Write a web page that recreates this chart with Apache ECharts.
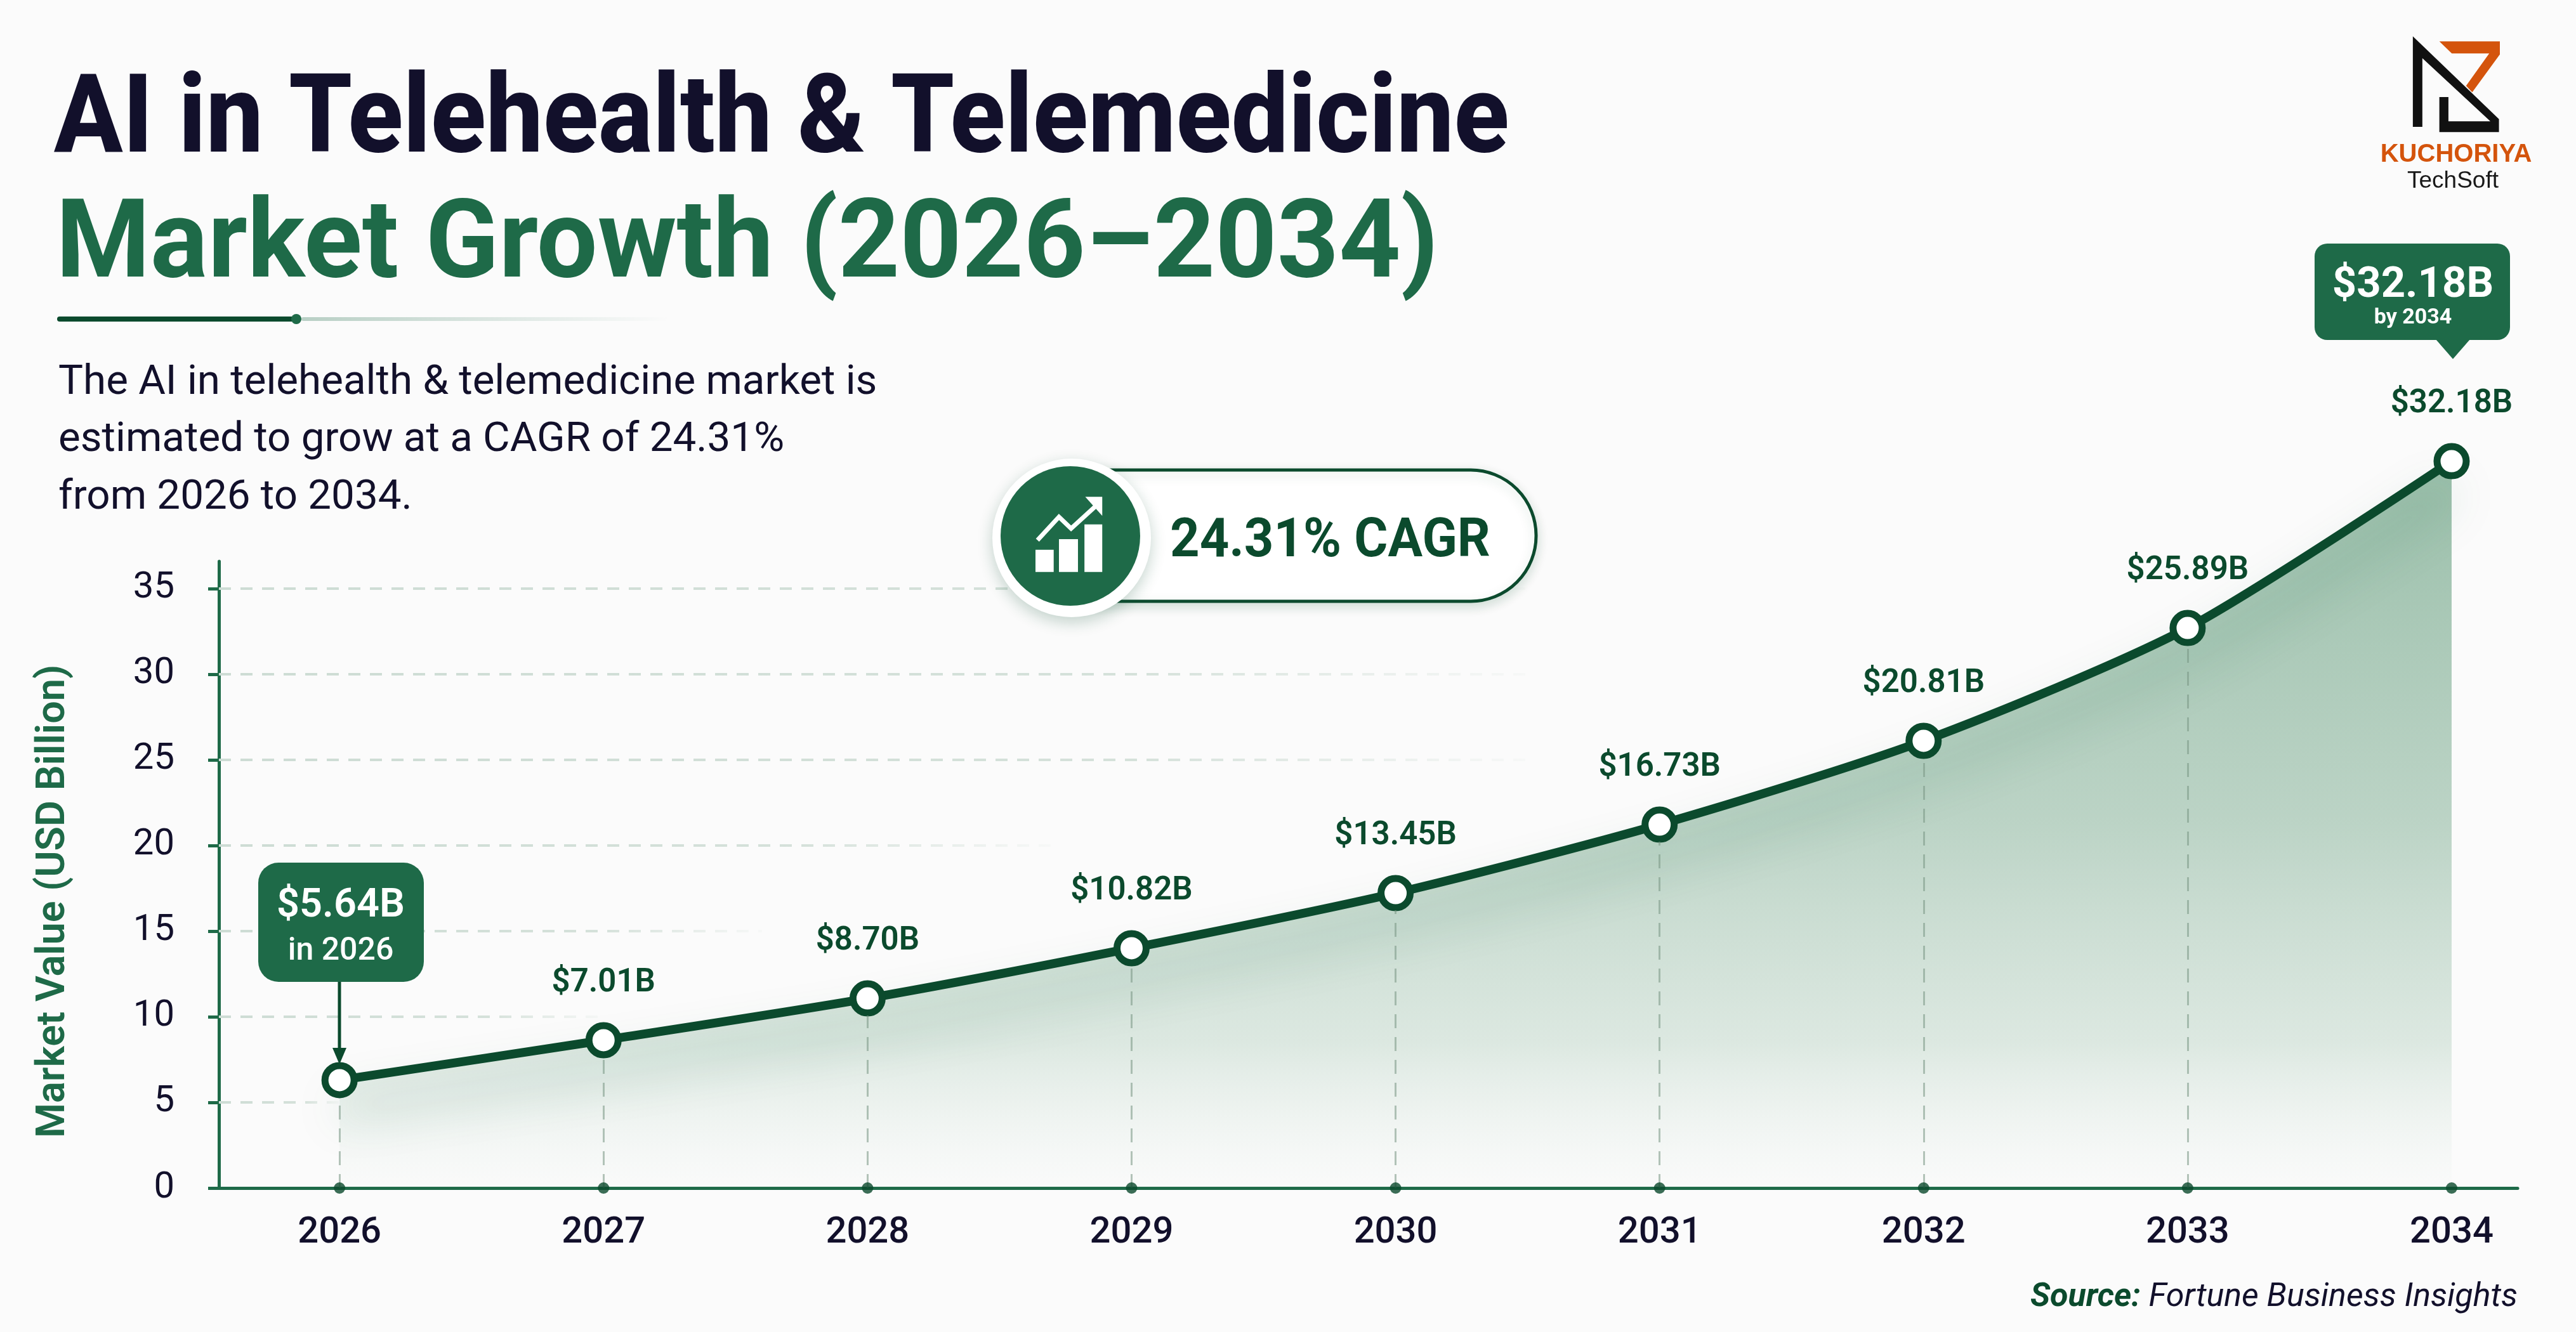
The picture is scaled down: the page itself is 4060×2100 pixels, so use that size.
<!DOCTYPE html>
<html>
<head>
<meta charset="utf-8">
<title>AI in Telehealth & Telemedicine Market Growth</title>
<style>html,body{margin:0;padding:0;background:#fbfbfb}#c{width:4060px;height:2100px}</style>
<script src="https://cdn.jsdelivr.net/npm/echarts@6/dist/echarts.min.js"></script>
</head>
<body>
<div id="c"></div>
<script>
// ---- data ----
const years = [2026, 2027, 2028, 2029, 2030, 2031, 2032, 2033, 2034];
// curve height of each point as it sits against the picture's own value axis
const curveHeights = [6.30, 8.63, 11.07, 14.00, 17.22, 21.22, 26.11, 32.70, 42.44];
// printed market value of each point
const valueLabels = ['$5.64B', '$7.01B', '$8.70B', '$10.82B', '$13.45B', '$16.73B', '$20.81B', '$25.89B', '$32.18B'];
const yTicks = [0, 5, 10, 15, 20, 25, 30, 35];
// year at which each dashed horizontal gridline stops (5 … 35)
const gridlineLevels = [5, 10, 15, 20, 25, 30, 35];
const gridlineStops = [2026, 2027, 2027.6, 2028.7, 2030.5, 2030.5, 2030.5];

const DARK = '#0b4a2d', GREEN = '#1e6a48', INK = '#12102b', FONT = 'Roboto';
const chart = echarts.init(document.getElementById('c'), null, {renderer: 'canvas'});

const Lg = (x, y, x2, y2, stops, g) => new echarts.graphic.LinearGradient(x, y, x2, y2, stops, g);
const lx = z => 3500 + z / 2.8, ly = z => z / 1.96;
const logoPts = a => a.map(p => [lx(p[0]), ly(p[1])]);
const ix = z => 1500 + z / 1.568, iy = z => 700 + z / 3;
const iconPts = a => a.map(p => [ix(p[0]), iy(p[1])]);
// y is the text baseline; middle alignment sits about 0.24 em above it for these faces
const txt = (x, y, text, size, weight, fill, align, extra, sx) => ({
  type: 'text', x, y: y - 0.24 * size, z: 20, scaleX: sx || 1,
  style: Object.assign({text, fontFamily: FONT, fontSize: size, fontWeight: weight, fill, align: align || 'left', verticalAlign: 'middle'}, extra || {})
});
const poly = (points, fill, z) => ({type: 'polygon', z: z || 20, shape: {points}, style: {fill}});
const rect = (x, y, width, height, r, style, z) => ({type: 'rect', z: z || 20, shape: {x, y, width, height, r}, style});

const graphics = [
  // heading
  txt(85, 237, 'AI in Telehealth & Telemedicine', 173, 800, INK, 'left', null, 0.928),
  txt(88, 434, 'Market Growth (2026–2034)', 173, 700, GREEN, 'left', null, 0.982),
  rect(90, 499, 378, 8, 4, {fill: DARK}),
  {type: 'circle', z: 20, shape: {cx: 467, cy: 503, r: 8}, style: {fill: GREEN}},
  rect(475, 500, 580, 6, 3, {fill: Lg(0, 0, 1, 0, [{offset: 0, color: 'rgba(30,106,72,0.3)'}, {offset: 1, color: 'rgba(30,106,72,0)'}])}),
  txt(92, 620, 'The AI in telehealth & telemedicine market is', 65.5, 400, INK),
  txt(92, 710, 'estimated to grow at a CAGR of 24.31%', 65.5, 400, INK),
  txt(92, 801, 'from 2026 to 2034.', 65.5, 400, INK),

  // CAGR pill
  rect(1640, 741, 781, 207, 103, {fill: '#fff', stroke: DARK, lineWidth: 5, shadowBlur: 18, shadowColor: 'rgba(15,81,50,0.18)', shadowOffsetY: 6}),
  {type: 'circle', z: 20, shape: {cx: 1689, cy: 848, r: 125}, style: {fill: '#fff', shadowBlur: 24, shadowColor: 'rgba(15,81,50,0.25)', shadowOffsetY: 8}},
  {type: 'circle', z: 20, shape: {cx: 1687, cy: 845, r: 110}, style: {fill: GREEN}},
  rect(ix(207), iy(500), 45 / 1.568, 105 / 3, 0, {fill: '#fff'}, 21),
  rect(ix(265), iy(450), 47 / 1.568, 155 / 3, 0, {fill: '#fff'}, 21),
  rect(ix(328), iy(380), 44 / 1.568, 225 / 3, 0, {fill: '#fff'}, 21),
  {type: 'polyline', z: 21, shape: {points: iconPts([[212, 455], [265, 345], [295, 400], [358, 290]])}, style: {stroke: '#fff', lineWidth: 7, fill: null}},
  poly(iconPts([[330, 250], [372, 250], [372, 340]]), '#fff', 21),
  txt(1844, 876, '24.31% CAGR', 86, 700, DARK, 'left', null, 0.945),

  // 2026 call-out
  rect(407, 1360, 261, 188, 32, {fill: GREEN}),
  txt(537, 1444, valueLabels[0], 63, 600, '#fff', 'center'),
  txt(537, 1512, 'in ' + years[0], 50, 500, '#fff', 'center'),
  {type: 'line', z: 20, shape: {x1: 535, y1: 1548, x2: 535, y2: 1660}, style: {stroke: DARK, lineWidth: 5}},
  poly([[524, 1652], [546, 1652], [535, 1678]], DARK),

  // 2034 call-out
  rect(3648, 384, 308, 152, 20, {fill: GREEN}),
  poly([[3839, 535], [3893, 535], [3866, 566]], GREEN),
  txt(3803, 467, valueLabels[8], 67, 700, '#fff', 'center'),
  txt(3803, 510, 'by ' + years[8], 34, 700, '#fff', 'center'),

  // logo
  poly(logoPts([[965, 128], [1232, 128], [1232, 168], [1110, 285], [1083, 265], [1185, 165], [1020, 165]]), '#d4540c'),
  poly(logoPts([[848, 112], [1228, 368], [1228, 408], [965, 408], [965, 300], [1005, 300], [1005, 375], [1190, 375], [890, 180], [890, 392], [848, 392]]), '#111111', 21),
  txt(3871, 254, 'KUCHORIYA', 40, 700, '#d4540c', 'center', {fontFamily: 'Liberation Sans'}),
  txt(3866, 295, 'TechSoft', 37, 400, '#1a1a1a', 'center', {fontFamily: 'Liberation Sans'}),

  // source
  {type: 'text', z: 20, x: 3968, y: 2046, style: {
    text: '{a|Source: }{b|Fortune Business Insights}', align: 'right', verticalAlign: 'middle',
    rich: {
      a: {fontFamily: FONT, fontStyle: 'italic', fontWeight: 700, fontSize: 52, fill: DARK},
      b: {fontFamily: FONT, fontStyle: 'italic', fontWeight: 400, fontSize: 52, fill: INK}
    }}}
];

chart.setOption({
  animation: false,
  backgroundColor: '#fbfbfb',
  grid: {left: 345, right: 92, top: 885, bottom: 227, containLabel: false},
  xAxis: {
    type: 'value', min: 2025.543, max: 2034.25, splitLine: {show: false},
    axisLine: {show: true, onZero: false, lineStyle: {color: GREEN, width: 5}},
    axisTick: {show: false},
    axisLabel: {customValues: years, margin: 42, formatter: v => String(v), color: INK, fontFamily: FONT, fontSize: 58, fontWeight: 500, showMinLabel: true, showMaxLabel: true}
  },
  yAxis: {
    type: 'value', min: 0, max: 36.59, interval: 5, splitLine: {show: false},
    name: 'Market Value (USD Billion)', nameLocation: 'middle', nameGap: 228, nameRotate: 90,
    nameTextStyle: {color: GREEN, fontFamily: FONT, fontSize: 63, fontWeight: 600, padding: [0, 84, 0, 0]},
    axisLine: {show: true, lineStyle: {color: GREEN, width: 5}},
    axisTick: {show: true, customValues: yTicks, length: 17, lineStyle: {color: GREEN, width: 5}},
    axisLabel: {customValues: yTicks, margin: 70, color: INK, fontFamily: FONT, fontSize: 58, fontWeight: 400}
  },
  series: [
    // faded dashed gridlines
    {
      type: 'line', data: [], z: 1, silent: true, symbol: 'none',
      markLine: {
        silent: true, symbol: 'none', animation: false, label: {show: false},
        data: gridlineLevels.map((v, i) => [
          {xAxis: 2025.543, yAxis: v, lineStyle: {color: Lg(0, 0, 1, 0, [{offset: 0, color: '#cddcd4'}, {offset: 0.7, color: '#d5e1da'}, {offset: 1, color: 'rgba(213,225,218,0.1)'}]), width: 4, type: [19, 15]}},
          {xAxis: gridlineStops[i], yAxis: v}
        ])
      }
    },
    // market curve with gradient area
    {
      name: 'Market Value', type: 'line', z: 3, clip: false, smooth: 0.25,
      data: years.map((y, i) => [y, curveHeights[i]]),
      symbol: 'circle', symbolSize: 46, showSymbol: true,
      itemStyle: {color: '#fff', borderColor: DARK, borderWidth: 11},
      lineStyle: {color: DARK, width: 14, shadowColor: 'rgba(30,106,72,0.36)', shadowBlur: 70, shadowOffsetY: 46},
      areaStyle: {color: Lg(0, 727, 0, 1873, [
        {offset: 0, color: 'rgba(88,150,115,0.85)'},
        {offset: 0.5, color: 'rgba(105,160,128,0.62)'},
        {offset: 0.8, color: 'rgba(135,180,153,0.38)'},
        {offset: 1, color: 'rgba(190,215,200,0.03)'}
      ], true)},
      label: {
        show: true, position: 'top', distance: 36, color: DARK, fontFamily: FONT, fontSize: 51, fontWeight: 600,
        formatter: p => p.dataIndex === 0 ? '' : valueLabels[p.dataIndex]
      },
      markLine: {
        silent: true, symbol: 'none', animation: false, label: {show: false}, z: 4,
        lineStyle: {color: 'rgba(120,150,132,0.55)', width: 3, type: [22, 14]},
        data: years.map((y, i) => [{xAxis: y, yAxis: 0}, {xAxis: y, yAxis: curveHeights[i] - 1}])
      }
    },
    // dots on the year axis
    {
      type: 'scatter', z: 5, silent: true, clip: false, symbolSize: 18,
      itemStyle: {color: DARK},
      data: years.map(y => [y, 0])
    }
  ],
  graphic: graphics
});
</script>
</body>
</html>
